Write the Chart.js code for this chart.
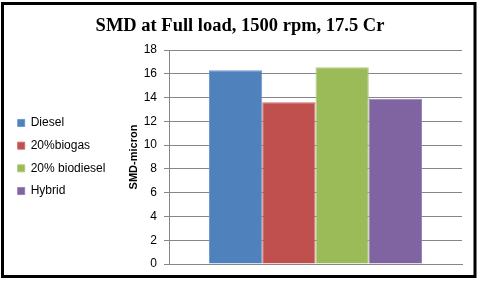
<!DOCTYPE html>
<html>
<head>
<meta charset="utf-8">
<script src="https://cdn.jsdelivr.net/npm/chart.js@4/dist/chart.umd.min.js"></script>
<style>
  html, body { margin: 0; padding: 0; background: #ffffff; }
  #wrap { position: relative; width: 480px; height: 282px; }
</style>
</head>
<body>
<div id="wrap"><canvas id="c" width="480" height="282"></canvas></div>
<script>
// ---- data ----
const categories = [''];
const seriesNames = ['Diesel', '20%biogas', '20% biodiesel', 'Hybrid'];
const dieselValues = [16.3];
const biogasValues = [13.6];
const biodieselValues = [16.55];
const hybridValues = [13.9];
const yTicks = [0, 2, 4, 6, 8, 10, 12, 14, 16, 18];
const titleText = 'SMD at Full load, 1500 rpm, 17.5 Cr';
const yAxisTitle = 'SMD-micron';

const fills = ['#4F81BD', '#C0504D', '#9BBB59', '#8064A2'];
const edges = ['#6E98CC', '#CD6F6C', '#AECB7A', '#9580B4'];
const seriesValues = [dieselValues, biogasValues, biodieselValues, hybridValues];

const framePlugin = {
  id: 'frame',
  afterLayout(chart) {
    // centre the title over the whole picture
    if (chart.titleBlock) {
      chart.titleBlock.left = 0;
      chart.titleBlock.right = 480;
      chart.titleBlock.width = 480;
    }
  },
  afterDraw(chart) {
    const ctx = chart.ctx;
    ctx.save();
    ctx.strokeStyle = '#000000';
    ctx.lineWidth = 3;
    ctx.strokeRect(2.5, 3.5, 472.5, 273);
    ctx.restore();
  }
};

new Chart(document.getElementById('c'), {
  type: 'bar',
  data: {
    labels: categories,
    datasets: seriesNames.map((n, i) => ({
      label: n,
      data: seriesValues[i],
      backgroundColor: fills[i],
      borderColor: edges[i],
      borderWidth: 1,
      categoryPercentage: 4 / 5.5,
      barPercentage: 1
    }))
  },
  options: {
    responsive: false,
    animation: false,
    layout: { padding: { left: 7, right: 18, top: 0, bottom: 18 } },
    plugins: {
      title: {
        display: true,
        text: titleText,
        color: '#000000',
        font: { family: 'Liberation Serif', size: 18.5, weight: 'bold', lineHeight: 1.2 },
        padding: { top: 15, bottom: 12.8 }
      },
      legend: {
        position: 'left',
        fullSize: false,
        labels: {
          boxWidth: 7,
          boxHeight: 7,
          padding: 10.7,
          color: '#000000',
          font: { family: 'Liberation Sans', size: 12 }
        }
      },
      tooltip: { enabled: false }
    },
    scales: {
      x: {
        grid: { display: false, drawTicks: false },
        border: { display: true, color: '#868686' },
        ticks: { display: false },
        afterFit(s) { s.height = 0; }
      },
      y: {
        min: 0,
        max: 18,
        afterBuildTicks(s) { s.ticks = yTicks.map(v => ({ value: v })); },
        afterFit(s) { s.width = 169 - 7 - s.chart.legend.width; },
        grid: { color: '#868686', lineWidth: 1, drawTicks: true, tickLength: 5, tickColor: '#868686' },
        border: { display: true, color: '#868686' },
        ticks: { color: '#000000', padding: 7, font: { family: 'Liberation Sans', size: 12 } },
        title: {
          display: true,
          text: yAxisTitle,
          color: '#000000',
          font: { family: 'Liberation Sans', size: 11, weight: 'bold' },
          padding: { top: 12, bottom: 0 }
        }
      }
    }
  },
  plugins: [framePlugin]
});
</script>
</body>
</html>
